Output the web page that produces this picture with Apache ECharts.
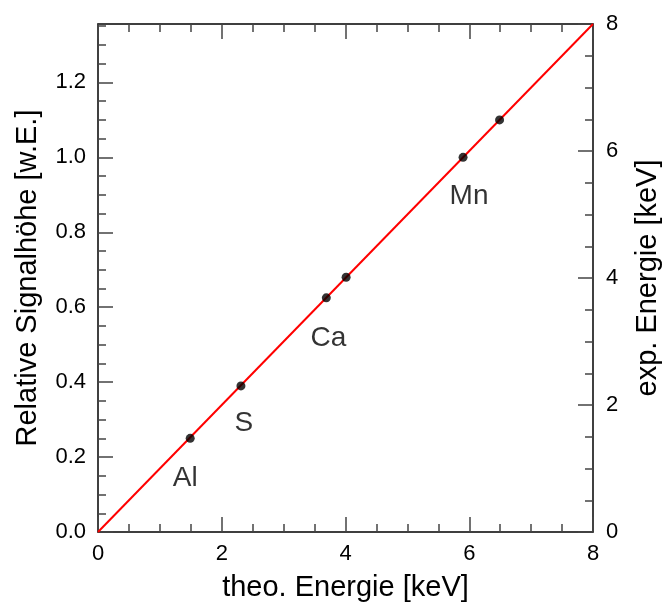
<!DOCTYPE html>
<html>
<head>
<meta charset="utf-8">
<script src="https://cdn.jsdelivr.net/npm/echarts@6/dist/echarts.min.js"></script>
<style>html,body{margin:0;padding:0;background:#fff;}#c{width:663px;height:603px;}</style>
</head>
<body>
<div id="c"></div>
<script>
// Data
var elementNames = ['Al', 'S', 'Ca', '', 'Mn', ''];
var theoEnergy = [1.49, 2.31, 3.69, 4.01, 5.9, 6.49];      // keV
var relSignal  = [0.25, 0.39, 0.625, 0.68, 1.0, 1.1];      // w.E.
var fitLineX = [0, 8];
var fitLineY = [0, 8];                                      // exp. Energie keV
var xTicks = [0, 2, 4, 6, 8];
var leftTicks = [0.0, 0.2, 0.4, 0.6, 0.8, 1.0, 1.2];
var rightTicks = [0, 2, 4, 6, 8];
var refEnergyForUnit = 5.9;  // Mn Kα = 1.0 relative

var FONT = '"Liberation Sans", Arial, sans-serif';
var leftMax = 8 / refEnergyForUnit;
var labelOffsets = [[-5, 40], [3, 37], [2, 40], [0, 0], [6, 39], [0, 0]];

var tickStyle = { color: '#444', width: 1.5 };
var axisLineStyle = { color: '#000', width: 1.5 };
var TXT = '#000';

var pts = theoEnergy.map(function (x, i) {
  return {
    value: [x, relSignal[i]],
    label: {
      show: elementNames[i] !== '',
      formatter: elementNames[i],
      position: 'inside',
      offset: labelOffsets[i],
      fontSize: 28, fontFamily: FONT, color: TXT
    }
  };
});

var chart = echarts.init(document.getElementById('c'), null, { renderer: 'canvas' });
chart.setOption({
  animation: false,
  backgroundColor: '#fff',
  grid: { left: 98, right: 70, top: 24, bottom: 71, containLabel: false, outerBoundsMode: 'none' },
  xAxis: [
    {
      type: 'value', min: xTicks[0], max: xTicks[xTicks.length - 1], interval: 2,
      position: 'bottom',
      name: 'theo. Energie [keV]', nameLocation: 'middle', nameGap: 41,
      nameTextStyle: { fontSize: 29, fontFamily: FONT, color: TXT },
      axisLine: { onZero: false, lineStyle: axisLineStyle },
      axisTick: { inside: true, length: 15, lineStyle: tickStyle },
      minorTick: { show: true, splitNumber: 4, length: 8, lineStyle: tickStyle },
      axisLabel: { fontSize: 22, fontFamily: FONT, color: TXT, margin: 11 },
      splitLine: { show: false }
    },
    {
      type: 'value', min: 0, max: 8, interval: 2, position: 'top',
      axisLine: { onZero: false, lineStyle: axisLineStyle },
      axisTick: { inside: true, length: 15, lineStyle: tickStyle },
      minorTick: { show: true, splitNumber: 4, length: 8, lineStyle: tickStyle },
      axisLabel: { show: false },
      splitLine: { show: false }
    }
  ],
  yAxis: [
    {
      type: 'value', min: 0, max: leftMax, interval: 0.2, position: 'left',
      name: 'Relative Signalhöhe [w.E.]', nameLocation: 'middle', nameGap: 56,
      nameTextStyle: { fontSize: 29, fontFamily: FONT, color: TXT },
      axisLine: { onZero: false, lineStyle: axisLineStyle },
      axisTick: { inside: true, length: 15, lineStyle: tickStyle },
      axisLabel: {
        fontSize: 22, fontFamily: FONT, color: TXT, margin: 12, showMaxLabel: false,
        formatter: function (v) { return v.toFixed(1); }
      },
      splitLine: { show: false }
    },
    {
      type: 'value', min: 0, max: leftMax, interval: 0.05, position: 'left',
      axisLine: { show: false },
      axisTick: { inside: true, length: 8, lineStyle: tickStyle },
      axisLabel: { show: false },
      splitLine: { show: false }
    },
    {
      type: 'value', min: rightTicks[0], max: rightTicks[rightTicks.length - 1], interval: 2,
      position: 'right',
      name: 'exp. Energie [keV]', nameLocation: 'middle', nameGap: 40, nameRotate: 90,
      nameTextStyle: { fontSize: 29, fontFamily: FONT, color: TXT },
      axisLine: { onZero: false, lineStyle: axisLineStyle },
      axisTick: { inside: true, length: 15, lineStyle: tickStyle },
      minorTick: { show: true, splitNumber: 4, length: 8, lineStyle: tickStyle },
      axisLabel: { fontSize: 22, fontFamily: FONT, color: TXT, margin: 13 },
      splitLine: { show: false }
    }
  ],
  series: [
    {
      type: 'line', xAxisIndex: 0, yAxisIndex: 2,
      data: fitLineX.map(function (x, i) { return [x, fitLineY[i]]; }),
      showSymbol: false, symbol: 'none',
      lineStyle: { color: '#ff0000', width: 2 },
      z: 2
    },
    {
      type: 'scatter', xAxisIndex: 0, yAxisIndex: 0,
      data: pts, symbol: 'circle', symbolSize: 9,
      itemStyle: { color: '#000' },
      z: 3
    }
  ]
});
</script>
</body>
</html>
